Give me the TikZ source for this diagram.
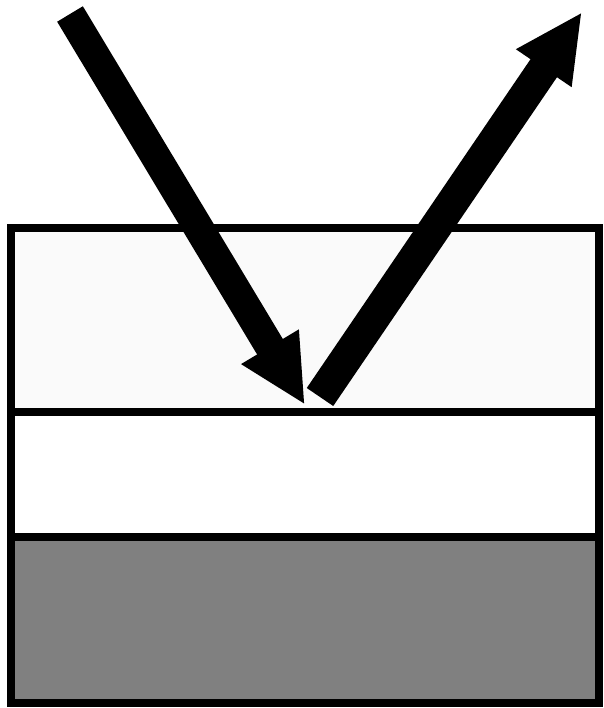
\documentclass[tikz,border=0pt]{standalone}
\usetikzlibrary{arrows.meta}
\begin{document}
\begin{tikzpicture}[x=1pt,y=-1pt,
  layer/.style={draw=black,line width=8pt},
  beam/.style={line width=30pt,draw=black,-{Triangle[width=62pt,length=68pt]}}]
\useasboundingbox (0,0) rectangle (603,708);
% layers
\fill[black!2] (11,228) rectangle (599,412);
\fill[white] (11,412) rectangle (599,537);
\fill[black!50] (11,537) rectangle (599,703);
\draw[layer] (11,228) rectangle (599,703);
\draw[layer] (11,412) -- (599,412);
\draw[layer] (11,537) -- (599,537);
% beams
\coordinate (inA) at (70,14);
\coordinate (inB) at (305,405);
\coordinate (outA) at (320,397);
\coordinate (outB) at (582,12);
\draw[beam] (inA) -- (inB);
\draw[beam,line width=32pt] (outA) -- (outB);
\end{tikzpicture}
\end{document}
